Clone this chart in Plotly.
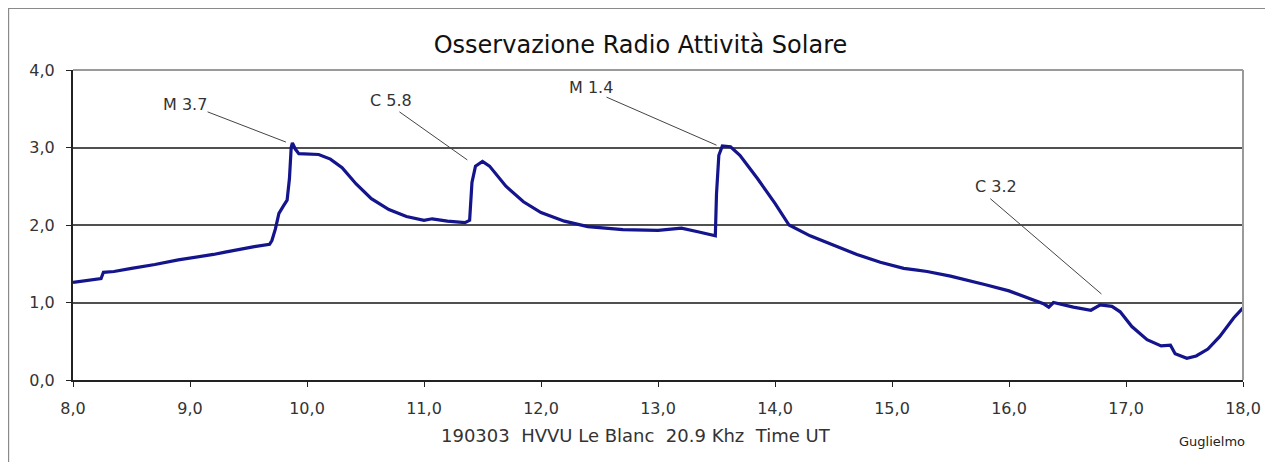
"""
Osservazione radio attivita' solare - VLF HWU Le Blanc 20.9 kHz, 19/03/03.
"""

import plotly.graph_objects as go

# time UT (hours) and signal level
TIME_UT = [
    8.00, 8.10, 8.20, 8.24, 8.26, 8.35, 8.50, 8.60, 8.70, 8.90, 9.00,
    9.10, 9.20, 9.30, 9.40, 9.55, 9.68, 9.70, 9.73, 9.76, 9.80, 9.83, 9.85,
    9.865, 9.875, 9.90, 9.93, 10.00, 10.10, 10.20, 10.30, 10.42, 10.55,
    10.70, 10.85, 11.00, 11.07, 11.20, 11.35, 11.39, 11.41, 11.44, 11.50,
    11.56, 11.70, 11.85, 12.00, 12.20, 12.40, 12.55, 12.70, 13.00, 13.20, 13.35,
    13.49, 13.50, 13.52, 13.55, 13.62, 13.70, 13.85, 14.00, 14.12, 14.30,
    14.50, 14.70, 14.90, 15.10, 15.20, 15.30, 15.50, 15.65, 15.80, 16.00, 16.15, 16.30,
    16.34, 16.38, 16.55, 16.70, 16.78, 16.88, 16.95, 17.05, 17.18, 17.30,
    17.38, 17.42, 17.52, 17.60, 17.70, 17.80, 17.92, 18.00,
]
LEVEL = [
    1.26, 1.28, 1.30, 1.31, 1.39, 1.40, 1.44, 1.46, 1.49, 1.55, 1.57,
    1.59, 1.62, 1.65, 1.68, 1.72, 1.75, 1.80, 1.95, 2.15, 2.25, 2.32, 2.60,
    3.00, 3.06, 2.98, 2.92, 2.92, 2.91, 2.85, 2.74, 2.53, 2.34,
    2.20, 2.11, 2.06, 2.08, 2.05, 2.03, 2.06, 2.55, 2.76, 2.82,
    2.76, 2.50, 2.30, 2.16, 2.05, 1.98, 1.96, 1.94, 1.93, 1.96, 1.91,
    1.86, 2.40, 2.90, 3.02, 3.01, 2.90, 2.60, 2.28, 2.00, 1.86,
    1.74, 1.62, 1.52, 1.44, 1.42, 1.40, 1.34, 1.29, 1.23, 1.15, 1.07, 0.98,
    0.94, 1.00, 0.94, 0.90, 0.97, 0.95, 0.88, 0.69, 0.52, 0.44,
    0.45, 0.34, 0.28, 0.31, 0.40, 0.56, 0.80, 0.93,
]

# flare labels: text, label position, leader line start/end
FLARE_LABELS = ["M 3.7", "C 5.8", "M 1.4", "C 3.2"]
LABEL_X = [8.955, 10.72, 12.43, 15.89]
LABEL_Y = [3.56, 3.61, 3.77, 2.50]
LEADER_X0 = [9.15, 10.79, 12.56, 15.84]
LEADER_Y0 = [3.46, 3.46, 3.65, 2.34]
LEADER_X1 = [9.82, 11.37, 13.50, 16.79]
LEADER_Y1 = [3.07, 2.84, 3.03, 1.11]

X_TICKS = [8, 9, 10, 11, 12, 13, 14, 15, 16, 17, 18]
Y_TICKS = [0, 1, 2, 3, 4]

FONT = "DejaVu Sans, Arial, sans-serif"
TEXT_COLOR = "#333333"

# page body has an 8px margin, so the figure is laid out 8px up/left
W, H = 1265, 454

fig = go.Figure(
    go.Scatter(
        x=TIME_UT,
        y=LEVEL,
        mode="lines",
        line=dict(color="#14148c", width=3.2),
        hoverinfo="skip",
    )
)

shapes = [
    # outer chart frame (cut by the page edges)
    dict(type="rect", xref="paper", yref="paper", x0=-0.0554, y0=-0.4,
         x1=1.2, y1=1.2, line=dict(color="#8a8a8a", width=2)),
    # light grey top / right plot border
    dict(type="line", xref="paper", yref="paper", x0=0, y0=1, x1=1, y1=1,
         line=dict(color="#9a9a9a", width=2)),
    dict(type="line", xref="paper", yref="paper", x0=1, y0=0, x1=1, y1=1,
         line=dict(color="#9a9a9a", width=2)),
]
for x0, y0, x1, y1 in zip(LEADER_X0, LEADER_Y0, LEADER_X1, LEADER_Y1):
    shapes.append(
        dict(type="line", xref="x", yref="y", x0=x0, y0=y0, x1=x1, y1=y1,
             line=dict(color="#444444", width=1))
    )

annotations = [
    dict(text=label, x=x, y=y, xref="x", yref="y", showarrow=False,
         xanchor="center", font=dict(family=FONT, size=16, color=TEXT_COLOR))
    for label, x, y in zip(FLARE_LABELS, LABEL_X, LABEL_Y)
]
annotations.append(
    dict(text="190303\u00a0\u00a0HVVU Le Blanc\u00a0\u00a020.9 Khz\u00a0\u00a0Time UT",
         x=0.481, y=-0.18, xref="paper", yref="paper", showarrow=False,
         xanchor="center", yanchor="middle",
         font=dict(family=FONT, size=18, color=TEXT_COLOR))
)
annotations.append(
    dict(text="Guglielmo", x=0.9736, y=-0.197, xref="paper", yref="paper",
         showarrow=False, xanchor="center", yanchor="middle",
         font=dict(family=FONT, size=13, color="#222222"))
)

fig.update_layout(
    width=W,
    height=H,
    margin=dict(l=65, r=27, t=62, b=82),
    paper_bgcolor="white",
    plot_bgcolor="white",
    separators=",.",
    showlegend=False,
    title=dict(
        text="Osservazione Radio Attività Solare",
        x=0.5, y=1 - 37 / H, xanchor="center", yanchor="middle",
        font=dict(family=FONT, size=24, color="#111111"),
    ),
    xaxis=dict(
        range=[8, 18],
        tickvals=X_TICKS,
        tickformat=".1f",
        showgrid=False,
        zeroline=False,
        showline=True,
        linecolor="#222222",
        linewidth=2,
        ticks="outside",
        ticklen=5,
        tickcolor="#222222",
        ticklabelstandoff=8,
        tickfont=dict(family=FONT, size=16, color=TEXT_COLOR),
    ),
    yaxis=dict(
        range=[0, 4],
        tickvals=Y_TICKS,
        tickformat=".1f",
        showgrid=True,
        gridcolor="#505050",
        gridwidth=1.5,
        zeroline=False,
        showline=True,
        linecolor="#222222",
        linewidth=2,
        ticks="outside",
        ticklen=5,
        tickcolor="#222222",
        ticklabelstandoff=8,
        tickfont=dict(family=FONT, size=16, color=TEXT_COLOR),
    ),
    shapes=shapes,
    annotations=annotations,
)

fig.write_html("out.html")
